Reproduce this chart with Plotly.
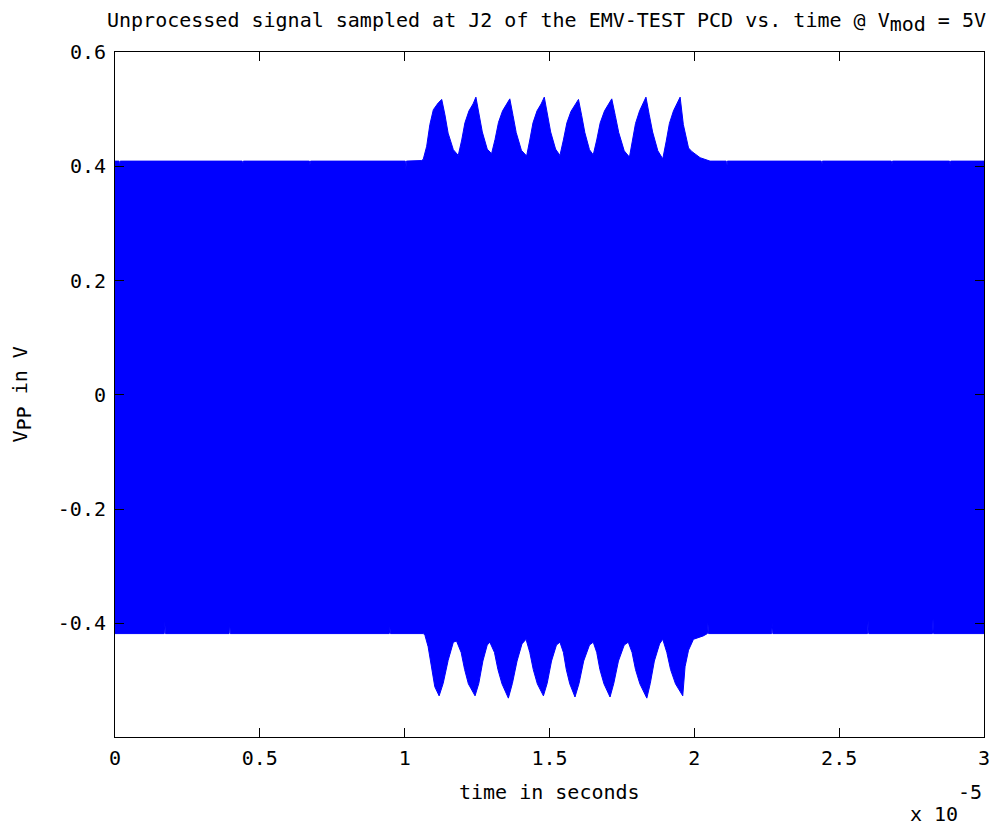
import plotly.graph_objects as go

# Envelope of the sampled carrier, time in units of 1e-5 s, value in V
upper_t = [0.000, 0.014, 0.016, 0.018, 0.439, 0.441, 0.443, 0.671, 0.673, 0.675,
           1.002, 1.004, 1.006,
           1.058, 1.064, 1.076, 1.087, 1.099, 1.116, 1.128, 1.139, 1.150, 1.168, 1.185,
           1.197, 1.208, 1.222, 1.236, 1.246, 1.257, 1.268, 1.285, 1.300,
           1.312, 1.324, 1.338, 1.352, 1.363, 1.374, 1.385, 1.403, 1.421,
           1.432, 1.443, 1.457, 1.471, 1.482, 1.493, 1.504, 1.521, 1.536,
           1.548, 1.560, 1.574, 1.588, 1.600, 1.611, 1.622, 1.638, 1.651,
           1.663, 1.675, 1.690, 1.704, 1.715, 1.727, 1.739, 1.758, 1.776,
           1.786, 1.797, 1.811, 1.822, 1.833, 1.844, 1.856, 1.874, 1.891,
           1.903, 1.914, 1.928, 1.940, 1.951, 1.962, 1.980, 1.991, 2.020, 2.054,
           2.110, 2.112, 2.114, 2.438, 2.440, 2.442, 2.680, 2.682, 2.684,
           2.881, 2.883, 2.885, 3.000]
upper_v = [0.409, 0.409, 0.399, 0.409, 0.409, 0.402, 0.409, 0.409, 0.402, 0.409,
           0.409, 0.394, 0.409,
           0.410, 0.412, 0.435, 0.473, 0.499, 0.511, 0.517, 0.490, 0.458, 0.429, 0.419,
           0.446, 0.476, 0.497, 0.509, 0.521, 0.491, 0.460, 0.430, 0.422,
           0.447, 0.477, 0.497, 0.508, 0.518, 0.489, 0.459, 0.428, 0.418,
           0.446, 0.476, 0.497, 0.509, 0.521, 0.491, 0.460, 0.430, 0.419,
           0.446, 0.476, 0.496, 0.508, 0.517, 0.489, 0.459, 0.429, 0.420,
           0.446, 0.476, 0.497, 0.508, 0.518, 0.489, 0.459, 0.427, 0.416,
           0.444, 0.475, 0.497, 0.509, 0.521, 0.491, 0.460, 0.427, 0.413,
           0.444, 0.475, 0.497, 0.509, 0.521, 0.473, 0.432, 0.426, 0.415, 0.409,
           0.409, 0.395, 0.409, 0.409, 0.400, 0.409, 0.409, 0.402, 0.409,
           0.409, 0.402, 0.409, 0.409]

lower_t = [0.000, 0.170, 0.172, 0.174, 0.394, 0.396, 0.398, 0.947, 0.949, 0.951,
           1.065, 1.070, 1.081, 1.093, 1.104, 1.119, 1.133, 1.150, 1.168, 1.179,
           1.195, 1.207, 1.220, 1.243, 1.256, 1.270, 1.285, 1.294,
           1.310, 1.322, 1.336, 1.358, 1.372, 1.388, 1.405, 1.419,
           1.432, 1.444, 1.458, 1.479, 1.492, 1.507, 1.524, 1.536,
           1.548, 1.558, 1.570, 1.588, 1.602, 1.618, 1.638, 1.651,
           1.663, 1.674, 1.688, 1.709, 1.722, 1.738, 1.758, 1.772,
           1.785, 1.797, 1.812, 1.836, 1.848, 1.862, 1.880, 1.891,
           1.905, 1.918, 1.935, 1.960, 1.968, 1.980, 1.997, 2.031,
           2.045, 2.047, 2.049, 2.267, 2.269, 2.271, 2.598, 2.600, 2.602,
           2.822, 2.824, 2.826, 3.000]
lower_v = [-0.418, -0.418, -0.397, -0.418, -0.418, -0.397, -0.418, -0.418, -0.407, -0.418,
           -0.418, -0.421, -0.441, -0.476, -0.511, -0.527, -0.505, -0.465, -0.433, -0.431,
           -0.451, -0.481, -0.506, -0.527, -0.505, -0.466, -0.438, -0.433,
           -0.451, -0.481, -0.506, -0.531, -0.505, -0.466, -0.436, -0.428,
           -0.451, -0.481, -0.506, -0.527, -0.505, -0.466, -0.438, -0.433,
           -0.451, -0.481, -0.506, -0.529, -0.505, -0.466, -0.438, -0.433,
           -0.451, -0.481, -0.506, -0.529, -0.505, -0.466, -0.438, -0.433,
           -0.451, -0.481, -0.506, -0.531, -0.505, -0.466, -0.436, -0.428,
           -0.451, -0.481, -0.506, -0.527, -0.476, -0.447, -0.428, -0.422,
           -0.418, -0.400, -0.418, -0.418, -0.400, -0.418, -0.418, -0.395, -0.418,
           -0.418, -0.392, -0.418, -0.418]

x_ticks = [0, 0.5, 1, 1.5, 2, 2.5, 3]
x_tick_labels = ["0", "0.5", "1", "1.5", "2", "2.5", "3"]
y_ticks = [-0.4, -0.2, 0, 0.2, 0.4, 0.6]
y_tick_labels = ["-0.4", "-0.2", "0", "0.2", "0.4", "0.6"]

FONT = "DejaVu Sans Mono"
BLUE = "#0000FF"

poly_x = upper_t + lower_t[::-1]
poly_y = upper_v + lower_v[::-1]

fig = go.Figure()
fig.add_trace(go.Scatter(x=poly_x, y=poly_y, mode="lines", fill="toself",
                         fillcolor=BLUE, line=dict(color=BLUE, width=1),
                         hoverinfo="skip", showlegend=False))

axis_common = dict(showline=True, linecolor="black", linewidth=1, mirror="ticks",
                   ticks="inside", ticklen=9, tickcolor="black", tickwidth=1,
                   showgrid=False, zeroline=False,
                   tickfont=dict(family=FONT, size=20, color="black"))

fig.update_layout(
    width=991, height=827,
    margin=dict(l=115, r=7, t=52, b=90, autoexpand=False),
    paper_bgcolor="white", plot_bgcolor="white",
    font=dict(family=FONT, size=20, color="black"),
    xaxis=dict(range=[0, 3], tickvals=x_ticks, ticktext=x_tick_labels,
               ticklabelstandoff=3, **axis_common),
    yaxis=dict(range=[-0.599, 0.6], tickvals=y_ticks, ticktext=y_tick_labels,
               ticklabelstandoff=4, **axis_common),
    showlegend=False,
)

fig.add_annotation(xref="paper", yref="paper", x=0.5, y=1, yshift=30, xshift=-3,
                   xanchor="center", yanchor="middle", showarrow=False,
                   text='Unprocessed signal sampled at J2 of the EMV-TEST PCD vs. time @ V<sub><span style="font-size:20px">mod</span></sub> = 5V',
                   font=dict(family=FONT, size=20, color="black"))
fig.add_annotation(xref="paper", yref="paper", x=0.5, y=0, yshift=-55,
                   xanchor="center", yanchor="middle", showarrow=False,
                   text="time in seconds", font=dict(family=FONT, size=20, color="black"))
fig.add_annotation(xref="paper", yref="paper", x=0, y=0.5, xshift=-94,
                   xanchor="center", yanchor="middle", showarrow=False, textangle=-90,
                   text='V<sub><span style="font-size:20px">PP</span></sub> in V',
                   font=dict(family=FONT, size=20, color="black"))
fig.add_annotation(xref="paper", yref="paper", x=1, y=0, xshift=0, yshift=-55,
                   xanchor="right", yanchor="middle", showarrow=False,
                   text="-5", font=dict(family=FONT, size=20, color="black"))
fig.add_annotation(xref="paper", yref="paper", x=1, y=0, xshift=-24, yshift=-77,
                   xanchor="right", yanchor="middle", showarrow=False,
                   text="x 10", font=dict(family=FONT, size=20, color="black"))

fig.write_html("out.html", config={"displayModeBar": False},
               post_script="document.body.style.margin='0';document.body.style.overflow='hidden';")
